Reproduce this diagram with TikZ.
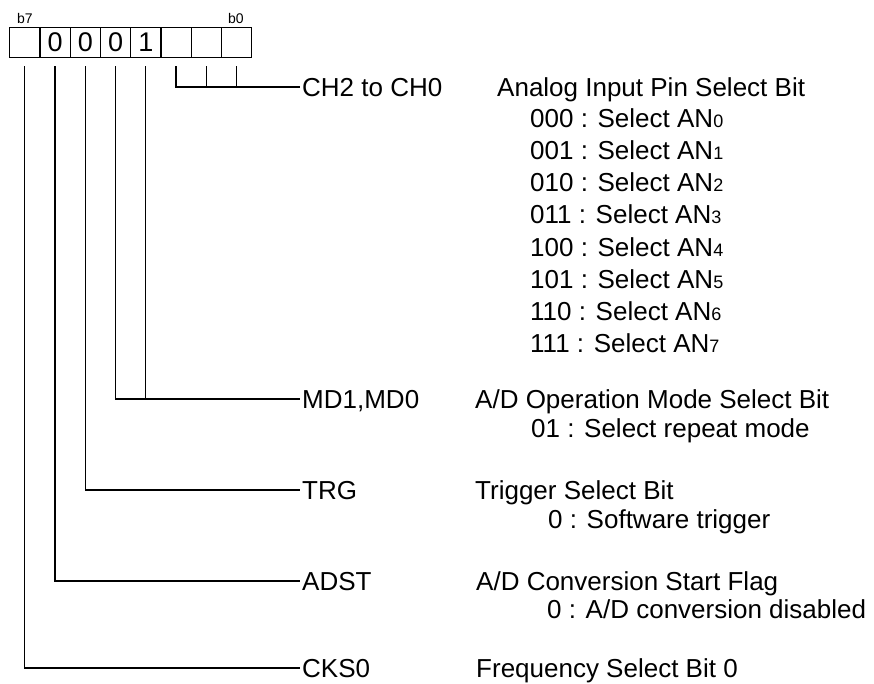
\documentclass[tikz,border=0pt]{standalone}
\usepackage{fontspec}
\setmainfont{Liberation Sans}
\newcommand{\subd}[1]{{\fontsize{18}{18}\selectfont #1}}
\begin{document}
\begin{tikzpicture}[x=1pt,y=-1pt,
  txt/.style={anchor=west, inner sep=0pt, text height=18.6pt, text depth=0pt, font=\fontsize{26}{26}\selectfont},
  cell/.style={draw, line width=1.3pt, minimum width=30.25pt, minimum height=30pt, inner sep=0pt, anchor=north west, font=\fontsize{27}{27}\selectfont},
  bitlbl/.style={anchor=base west, inner sep=0pt, font=\fontsize{14}{14}\selectfont},
  wire/.style={line width=1.3pt}]
\useasboundingbox (0,0) rectangle (874,684);
% register cells
\node[cell] (c7) at (9,27) {};
\node[cell] (c6) at (39.25,27) {0};
\node[cell] (c5) at (69.5,27) {0};
\node[cell] (c4) at (99.75,27) {0};
\node[cell] (c3) at (130,27) {1};
\node[cell] (c2) at (160.25,27) {};
\node[cell] (c1) at (190.5,27) {};
\node[cell] (c0) at (220.75,27) {};
\node[bitlbl] (lb7) at (17,24) {b7};
\node[bitlbl] (lb0) at (228,24) {b0};
% line starts
\foreach \i in {0,...,7} {\coordinate (p\i) at ([yshift=-8pt]c\i.south);}
% labels
\node[txt] (ch) at (302,87) {CH2 to CH0};
\node[txt] (md) at (302,399) {MD1,MD0};
\node[txt] (trg) at (302,490) {TRG};
\node[txt] (adst) at (302,581) {ADST};
\node[txt] (cks) at (302,668) {CKS0};
% descriptions
\node[txt] (dch) at (497,87) {Analog Input Pin Select Bit};
\node[txt] (s0) at (530,118) {000 : Select AN\subd{0}};
\node[txt] (s1) at (530,150) {001 : Select AN\subd{1}};
\node[txt] (s2) at (530,182) {010 : Select AN\subd{2}};
\node[txt] (s3) at (530,214) {011 : Select AN\subd{3}};
\node[txt] (s4) at (530,247) {100 : Select AN\subd{4}};
\node[txt] (s5) at (530,279) {101 : Select AN\subd{5}};
\node[txt] (s6) at (530,311) {110 : Select AN\subd{6}};
\node[txt] (s7) at (530,343) {111 : Select AN\subd{7}};
\node[txt] (dmd) at (475,399) {A/D Operation Mode Select Bit};
\node[txt] (smd) at (531,428) {01 : Select repeat mode};
\node[txt] (dtrg) at (475,490) {Trigger Select Bit};
\node[txt] (strg) at (548,519) {0 : Software trigger};
\node[txt] (dadst) at (476,581) {A/D Conversion Start Flag};
\node[txt] (sadst) at (547,609) {0 : A/D conversion disabled};
\node[txt] (dcks) at (476,668) {Frequency Select Bit 0};
% connectors
\draw[wire] (p2) |- ([xshift=-2pt]ch.west);
\draw[wire] (p1) -- (p1 |- ch.west);
\draw[wire] (p0) -- (p0 |- ch.west);
\draw[wire] (p4) |- ([xshift=-2pt]md.west);
\draw[wire] (p3) -- (p3 |- md.west);
\draw[wire] (p5) |- ([xshift=-2pt]trg.west);
\draw[wire] (p6) |- ([xshift=-2pt]adst.west);
\draw[wire] (p7) |- ([xshift=-2pt]cks.west);
\end{tikzpicture}
\end{document}
